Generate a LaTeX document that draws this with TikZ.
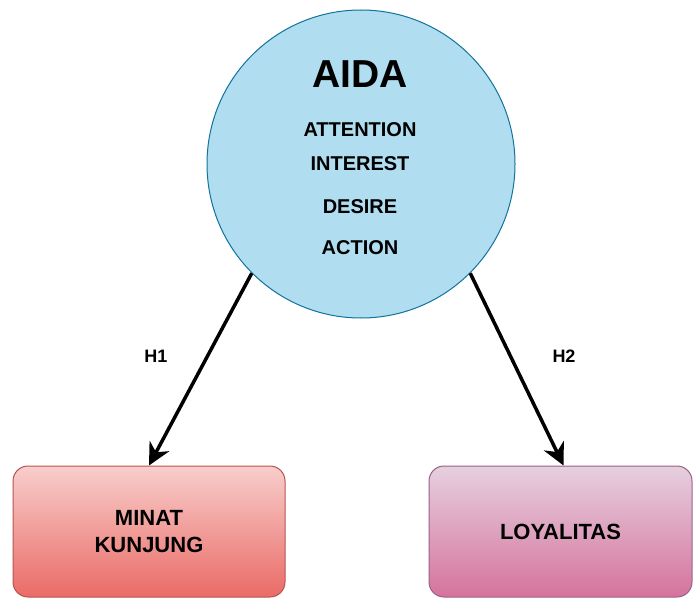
\documentclass[tikz,border=0pt]{standalone}
\usepackage{fontspec}
\setmainfont{Liberation Sans}
\usetikzlibrary{arrows.meta}

\definecolor{aidafill}{HTML}{B1DDF0}
\definecolor{aidaline}{HTML}{10739E}
\definecolor{minattop}{HTML}{F8CECC}
\definecolor{minatbot}{HTML}{EA6B66}
\definecolor{minatline}{HTML}{B85450}
\definecolor{loyaltop}{HTML}{E6D0DE}
\definecolor{loyalbot}{HTML}{D5739D}
\definecolor{loyalline}{HTML}{996185}

\begin{document}
\begin{tikzpicture}[x=1pt,y=-1pt]
    \useasboundingbox (0,0) rectangle (693,599);
    \tikzset{CircleStyle/.style = {%
        shape= circle,
        fill= aidafill,
        draw= aidaline,
        line width= 1pt,
        minimum size = 308pt,
        inner sep= 0pt}}
    \tikzset{BoxStyle/.style = {%
        shape= rectangle,
        rounded corners= 15pt,
        line width= 1pt,
        minimum height = 131pt,
        align= center,
        font= \bfseries\fontsize{22}{27}\selectfont}}
    \tikzset{ItemStyle/.style = {font= \bfseries\fontsize{20}{24}\selectfont}}
    \tikzset{HypoStyle/.style = {font= \bfseries\fontsize{18}{22}\selectfont}}
    \tikzset{EdgeStyle/.style = {%
        line width= 3.5pt,
        -{Stealth[length=22pt,width=22pt,inset=7pt]}}}
    % variabel X
    \node[CircleStyle] (aida) at (361,164) {};
    \node[font=\bfseries\fontsize{39}{44}\selectfont] (title) at (360,74) {AIDA};
    \node[ItemStyle] (attention) at (360,130) {ATTENTION};
    \node[ItemStyle] (interest) at (360,164) {INTEREST};
    \node[ItemStyle] (desire) at (360,207) {DESIRE};
    \node[ItemStyle] (action) at (360,248) {ACTION};
    % variabel Y
    \node[BoxStyle,minimum width=272pt,draw=minatline,
        top color=minattop,bottom color=minatbot] (minat) at (149,531.5) {MINAT\\KUNJUNG};
    \node[BoxStyle,minimum width=263pt,draw=loyalline,
        top color=loyaltop,bottom color=loyalbot] (loyal) at (560.5,531.5) {LOYALITAS};
    % hipotesis
    \draw[EdgeStyle] (aida.225) -- (minat.north);
    \draw[EdgeStyle] (aida.315) -- ([xshift=3pt]loyal.north);
    \node[HypoStyle] (h1) at (156,356) {H1};
    \node[HypoStyle] (h2) at (564,356) {H2};
\end{tikzpicture}
\end{document}
